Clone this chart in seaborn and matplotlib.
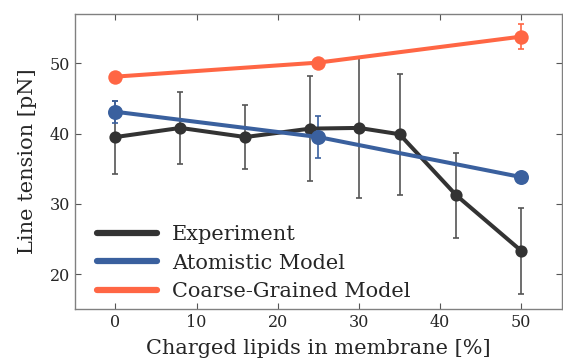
import matplotlib
matplotlib.use("Agg")
import matplotlib.pyplot as plt
import pandas as pd
import seaborn as sns

# experiment
exp_x = [0, 8, 16, 24, 30, 35, 42, 50]
exp_y = [39.5, 40.8, 39.5, 40.7, 40.8, 39.9, 31.2, 23.3]
exp_err = [5.2, 5.1, 4.5, 7.5, 10.0, 8.6, 6.1, 6.1]

# atomistic model
atom_x = [0, 25, 50]
atom_y = [43.1, 39.5, 33.8]
atom_err = [1.6, 3.0, 0.3]

# coarse-grained model
cg_x = [0, 25, 50]
cg_y = [48.1, 50.1, 53.8]
cg_err = [0.4, 0.4, 1.8]

labels = ["Experiment", "Atomistic Model", "Coarse-Grained Model"]
colors = ["#333333", "#3a609e", "#ff6644"]

df = pd.concat([
    pd.DataFrame({"x": exp_x, "y": exp_y, "err": exp_err, "src": labels[0]}),
    pd.DataFrame({"x": atom_x, "y": atom_y, "err": atom_err, "src": labels[1]}),
    pd.DataFrame({"x": cg_x, "y": cg_y, "err": cg_err, "src": labels[2]}),
])

sns.set_style("ticks")
plt.rcParams["font.family"] = ["DejaVu Serif"]

fig = plt.figure(figsize=(5.63, 3.62), dpi=100)
ax = fig.add_axes([0.133, 0.146, 0.865, 0.815])

msizes = {labels[0]: 8.8, labels[1]: 10.8, labels[2]: 10.4}
for lab, col in zip(labels, colors):
    d = df[df.src == lab]
    ecol = "#555555" if lab == labels[0] else col
    ax.errorbar(d.x, d.y, yerr=d.err, fmt="none", ecolor=ecol, elinewidth=1.2,
                capsize=2.5, capthick=1.2, zorder=2)
    sns.lineplot(data=d, x="x", y="y", color=col, lw=2.9, marker="o",
                 markersize=msizes[lab], markeredgewidth=0, ax=ax, zorder=3,
                 label=lab, legend=False)

ax.set_xlim(-5, 55)
ax.set_ylim(15, 57)
ax.set_xticks([0, 10, 20, 30, 40, 50])
ax.set_yticks([20, 30, 40, 50])
ax.tick_params(direction="in", top=True, right=True, labelsize=11.5,
               length=4, color="#555555")
for s in ax.spines.values():
    s.set_color("#808080")
    s.set_linewidth(1.0)

ax.set_xlabel("Charged lipids in membrane [%]", fontsize=15, labelpad=6)
ax.set_ylabel("Line tension [pN]", fontsize=15, labelpad=9)

handles = [plt.Line2D([], [], color=c, lw=4.5) for c in colors]
ax.legend(handles, labels, loc="lower left", frameon=False, fontsize=15,
          handlelength=2.9, handletextpad=0.7, borderaxespad=0.3,
          labelspacing=0.45, bbox_to_anchor=(0.015, -0.022))

fig.savefig("out.png", dpi=100)
